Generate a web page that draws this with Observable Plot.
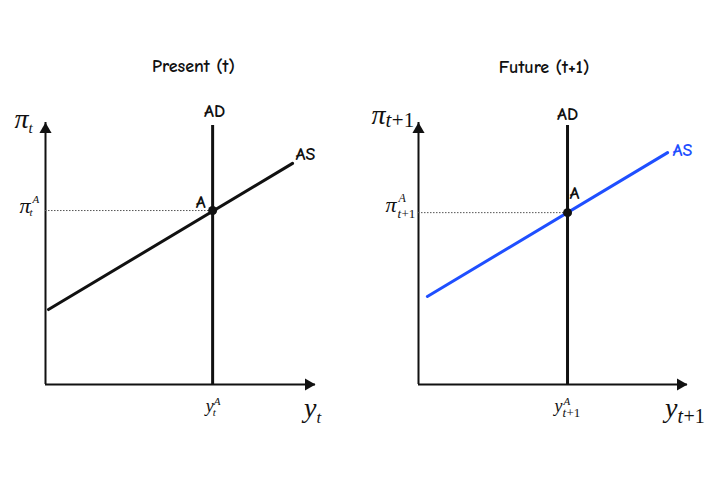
<!DOCTYPE html>
<html>
<head>
<meta charset="utf-8">
<script src="https://cdn.jsdelivr.net/npm/d3@7"></script>
<script src="https://cdn.jsdelivr.net/npm/@observablehq/plot@0.6"></script>
<style>
  html, body { margin: 0; padding: 0; background: #fff; }
  #wrap { display: flex; width: 705px; height: 496px; }
  svg { overflow: visible; }
</style>
</head>
<body>
<div id="wrap"></div>
<script>
// ---- data ----
const panelTitles = ["Present (t)", "Future (t+1)"];
const timeSub = ["t", "t+1"];
const adX = [6.19, 5.54];        // y^A (output at equilibrium)
const adTop = [9.89, 9.89];      // top of AD line
const piA = [6.64, 6.56];        // pi^A (inflation at equilibrium)
const asStartX = [0.11, 0.33];
const asStartY = [2.86, 3.36];
const asEndX = [9.15, 9.26];
const asEndY = [8.44, 8.85];
const curveLabels = ["AD", "AS", "A"];
const axisMax = 10;

// ---- styles ----
const serif = "'Liberation Serif','Times New Roman',serif";
const sans = "'Comic Sans MS','Comic Neue','DejaVu Sans',sans-serif";
const asColors = ["#111111", "#1f4fff"];

const cfg = [
  {width: 352, marginLeft: 45, marginRight: 37,
   title: {dx: 13, dy: -51},
   ad: {dx: 2, dy: -8}, as: {dx: 3, dy: -3}, a: {dx: -12, dy: -3, anchor: "middle"}},
  {width: 353, marginLeft: 66, marginRight: 18,
   title: {dx: -9, dy: -50},
   ad: {dx: 0, dy: -5}, as: {dx: 5, dy: 3}, a: {dx: 2, dy: -14, anchor: "start"}}
];

function part(x, y, t, o) {
  return Plot.text([{x, y, t}], {
    x: "x", y: "y", text: "t",
    dx: o.dx, dy: o.dy,
    fontSize: o.size,
    fontStyle: o.italic === false ? "normal" : "italic",
    fontFamily: serif,
    textAnchor: o.anchor || "start",
    lineAnchor: "bottom",
    fill: "#111"
  });
}

// subscript: italic "t", then upright "+1" when present
function subParts(x, y, sub, o) {
  const marks = [part(x, y, "t", {dx: o.dx, dy: o.dy, size: o.size})];
  if (sub.length > 1) {
    marks.push(part(x, y, sub.slice(1), {dx: o.dx + o.size * 0.3, dy: o.dy, size: o.size, italic: false}));
  }
  return marks;
}

function panel(i) {
  const c = cfg[i];
  const sub = timeSub[i];
  const marks = [];

  // axes with arrowheads
  marks.push(Plot.ruleY([0], {x1: 0, x2: axisMax, stroke: "#111", strokeWidth: 2}));
  marks.push(Plot.ruleX([0], {y1: 0, y2: axisMax, stroke: "#111", strokeWidth: 2}));
  marks.push(Plot.dot([{x: 0, y: axisMax}], {x: "x", y: "y", symbol: "triangle", r: 4.5, fill: "#111", stroke: null, dy: 7}));
  marks.push(Plot.dot([{x: axisMax, y: 0}], {x: "x", y: "y", symbol: "triangle", r: 4.5, fill: "#111", stroke: null, dx: -7, rotate: 90}));

  // dotted guide at pi^A
  marks.push(Plot.ruleY([piA[i]], {x1: 0, x2: adX[i], stroke: "#555", strokeWidth: 1, strokeDasharray: "1.5,1.5"}));
  // AD
  marks.push(Plot.ruleX([adX[i]], {y1: 0, y2: adTop[i], stroke: "#111", strokeWidth: 3}));
  // AS
  marks.push(Plot.line([{x: asStartX[i], y: asStartY[i]}, {x: asEndX[i], y: asEndY[i]}],
    {x: "x", y: "y", stroke: asColors[i], strokeWidth: 3}));
  // equilibrium A
  marks.push(Plot.dot([{x: adX[i], y: piA[i]}], {x: "x", y: "y", r: 4.5, fill: "#111", stroke: null}));

  const bold = {lineAnchor: "bottom", fontSize: 18, fontWeight: "bold", fontFamily: sans};
  marks.push(Plot.text([panelTitles[i]], {frameAnchor: "top", dx: c.title.dx, dy: c.title.dy, fill: "#111", ...bold}));
  marks.push(Plot.text([{x: adX[i], y: adTop[i], t: curveLabels[0]}], {x: "x", y: "y", text: "t",
    dx: c.ad.dx, dy: c.ad.dy, fill: "#111", ...bold}));
  marks.push(Plot.text([{x: asEndX[i], y: asEndY[i], t: curveLabels[1]}], {x: "x", y: "y", text: "t",
    dx: c.as.dx, dy: c.as.dy, textAnchor: "start", fill: asColors[i], ...bold}));
  marks.push(Plot.text([{x: adX[i], y: piA[i], t: curveLabels[2]}], {x: "x", y: "y", text: "t",
    dx: c.a.dx, dy: c.a.dy, textAnchor: c.a.anchor, fill: "#111", ...bold}));

  // math labels
  if (i === 0) {
    marks.push(part(0, axisMax, "π", {dx: -17, dy: 5, size: 28, anchor: "end"}));
    marks.push(...subParts(0, axisMax, sub, {dx: -17, dy: 10, size: 15}));
    marks.push(part(0, piA[i], "π", {dx: -15, dy: 2, size: 22, anchor: "end"}));
    marks.push(part(0, piA[i], "A", {dx: -13, dy: -8, size: 11}));
    marks.push(...subParts(0, piA[i], sub, {dx: -16, dy: 5, size: 11}));
    marks.push(part(adX[i], 0, "y", {dx: 1, dy: 27, size: 18, anchor: "end"}));
    marks.push(part(adX[i], 0, "A", {dx: 1, dy: 20, size: 11}));
    marks.push(...subParts(adX[i], 0, sub, {dx: 0, dy: 31, size: 11}));
    marks.push(part(axisMax, 0, "y", {dx: 1, dy: 32, size: 28, anchor: "end"}));
    marks.push(...subParts(axisMax, 0, sub, {dx: 1, dy: 38, size: 17}));
  } else {
    marks.push(part(0, axisMax, "π", {dx: -33, dy: 1, size: 28, anchor: "end"}));
    marks.push(...subParts(0, axisMax, sub, {dx: -33, dy: 4, size: 21}));
    marks.push(part(0, piA[i], "π", {dx: -22, dy: -1, size: 22, anchor: "end"}));
    marks.push(part(0, piA[i], "A", {dx: -20, dy: -11, size: 12}));
    marks.push(...subParts(0, piA[i], sub, {dx: -21, dy: 5, size: 13}));
    marks.push(part(adX[i], 0, "y", {dx: -5, dy: 27, size: 18, anchor: "end"}));
    marks.push(part(adX[i], 0, "A", {dx: -4, dy: 20, size: 11}));
    marks.push(...subParts(adX[i], 0, sub, {dx: -5, dy: 32, size: 13}));
    marks.push(part(axisMax, 0, "y", {dx: -10, dy: 32, size: 28, anchor: "end"}));
    marks.push(...subParts(axisMax, 0, sub, {dx: -10, dy: 38, size: 20}));
  }

  return Plot.plot({
    width: c.width,
    height: 496,
    marginLeft: c.marginLeft,
    marginRight: c.marginRight,
    marginTop: 122,
    marginBottom: 112,
    x: {domain: [0, axisMax], axis: null},
    y: {domain: [0, axisMax], axis: null},
    style: {background: "transparent", overflow: "visible"},
    marks
  });
}

const wrap = document.getElementById("wrap");
wrap.appendChild(panel(0));
wrap.appendChild(panel(1));
</script>
</body>
</html>
